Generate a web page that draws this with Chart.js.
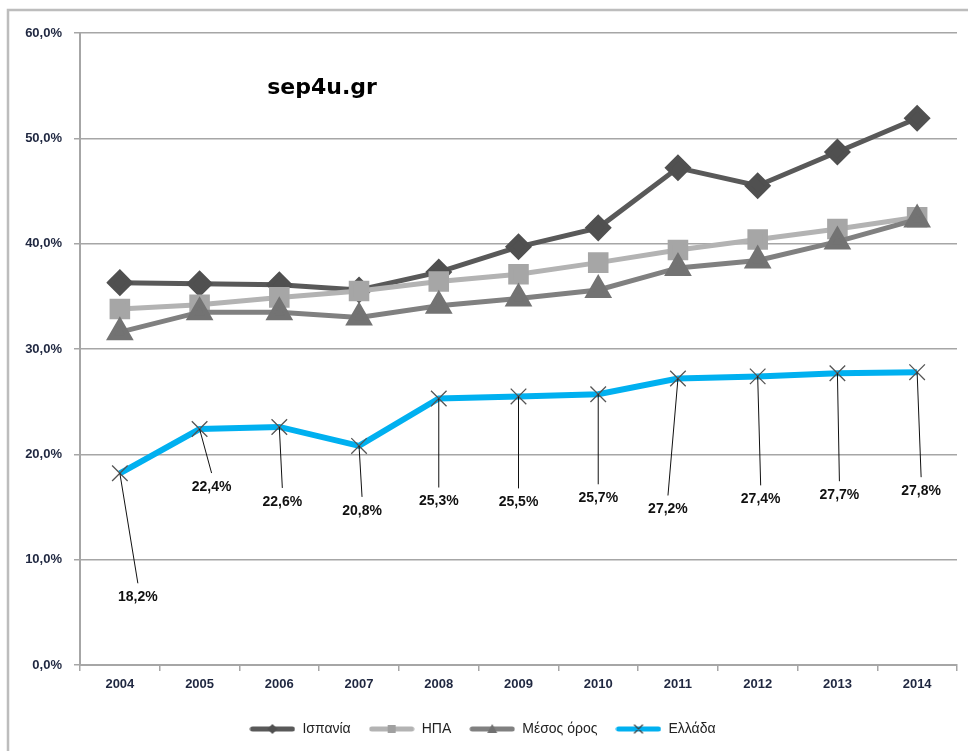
<!DOCTYPE html>
<html>
<head>
<meta charset="utf-8">
<script src="https://cdn.jsdelivr.net/npm/chart.js@4.4.0/dist/chart.umd.min.js"></script>
<style>
  html, body { margin: 0; padding: 0; background: #fff; overflow: hidden; }
  #wrap { width: 968px; height: 751px; }
  canvas { display: block; }
</style>
</head>
<body>
<div id="wrap"><canvas id="chart" width="968" height="751"></canvas></div>
<script>
var years = ['2004', '2005', '2006', '2007', '2008', '2009', '2010', '2011', '2012', '2013', '2014'];
var spain = [36.3, 36.2, 36.1, 35.6, 37.3, 39.7, 41.5, 47.2, 45.5, 48.7, 51.9];
var usa = [33.8, 34.2, 34.9, 35.5, 36.4, 37.1, 38.2, 39.4, 40.4, 41.4, 42.5];
var average = [31.6, 33.5, 33.5, 33.0, 34.1, 34.8, 35.6, 37.7, 38.4, 40.2, 42.3];
var greece = [18.2, 22.4, 22.6, 20.8, 25.3, 25.5, 25.7, 27.2, 27.4, 27.7, 27.8];
var seriesNames = ['Ισπανία', 'ΗΠΑ', 'Μέσος όρος', 'Ελλάδα'];
var yTicks = [0, 10, 20, 30, 40, 50, 60];

function pct(v) {
  return v.toFixed(1).replace('.', ',') + '%';
}

// little line + marker swatch for the legend
function swatch(lineColor, markColor, kind) {
  var c = document.createElement('canvas');
  c.width = 46; c.height = 12;
  var g = c.getContext('2d');
  g.strokeStyle = lineColor;
  g.lineWidth = 5;
  g.lineCap = 'round';
  g.beginPath(); g.moveTo(3, 6); g.lineTo(43, 6); g.stroke();
  g.fillStyle = markColor;
  g.strokeStyle = markColor;
  if (kind == 'diamond') {
    g.beginPath(); g.moveTo(23, 1); g.lineTo(28, 6); g.lineTo(23, 11); g.lineTo(18, 6); g.closePath(); g.fill();
  } else if (kind == 'square') {
    g.fillRect(19, 2, 8, 8);
  } else if (kind == 'triangle') {
    g.beginPath(); g.moveTo(23, 1); g.lineTo(28, 10); g.lineTo(18, 10); g.closePath(); g.fill();
  } else {
    g.lineWidth = 1.2;
    g.beginPath(); g.moveTo(19, 2); g.lineTo(27, 10); g.moveTo(27, 2); g.lineTo(19, 10); g.stroke();
  }
  return c;
}

// where each Greece label sits, relative to its point (px)
var labelShift = [[18, 124], [12, 58], [3, 75], [3, 65], [0, 103], [0, 106], [0, 104], [-10, 131], [3, 123], [2, 122], [4, 119]];

var greeceLabels = {
  id: 'greeceLabels',
  afterDatasetsDraw: function(chart) {
    var meta = chart.getDatasetMeta(3);
    var ctx = chart.ctx;
    ctx.save();
    ctx.font = 'bold 14px "Liberation Sans", sans-serif';
    ctx.textAlign = 'center';
    ctx.textBaseline = 'middle';
    meta.data.forEach(function(pt, i) {
      var lx = pt.x + labelShift[i][0];
      var ly = pt.y + labelShift[i][1];
      ctx.strokeStyle = '#111';
      ctx.lineWidth = 1;
      ctx.beginPath();
      ctx.moveTo(pt.x, pt.y);
      ctx.lineTo(lx, ly - 14);
      ctx.stroke();
      ctx.fillStyle = '#111';
      ctx.fillText(pct(greece[i]), lx, ly);
    });
    ctx.restore();
  }
};

var frame = {
  id: 'frame',
  beforeDraw: function(chart) {
    var ctx = chart.ctx;
    ctx.save();
    ctx.fillStyle = '#fff';
    ctx.fillRect(0, 0, chart.width, chart.height);
    ctx.strokeStyle = '#bdbdbd';
    ctx.lineWidth = 2.5;
    ctx.strokeRect(8, 10, 1000, 800);
    ctx.restore();
  },
  afterDraw: function(chart) {
    var ctx = chart.ctx;
    ctx.save();
    ctx.fillStyle = '#000';
    ctx.font = 'bold 22px "DejaVu Sans", sans-serif';
    ctx.textAlign = 'center';
    ctx.textBaseline = 'middle';
    ctx.fillText('sep4u.gr', 322, 88);
    ctx.restore();
  }
};

var ctx = document.getElementById('chart');
var myChart = new Chart(ctx, {
  type: 'line',
  data: {
    labels: years,
    datasets: [
      {
        label: seriesNames[0], data: spain, order: 4,
        borderColor: '#595959', borderWidth: 5,
        pointStyle: 'rectRot', pointRadius: 10, pointBackgroundColor: '#505050', pointBorderColor: '#505050',
        legendSwatch: swatch('#595959', '#505050', 'diamond')
      },
      {
        label: seriesNames[1], data: usa, order: 3,
        borderColor: '#b3b3b3', borderWidth: 5,
        pointStyle: 'rect', pointRadius: 11, pointBackgroundColor: '#a6a6a6', pointBorderColor: '#a6a6a6',
        legendSwatch: swatch('#b3b3b3', '#a0a0a0', 'square')
      },
      {
        label: seriesNames[2], data: average, order: 2,
        borderColor: '#808080', borderWidth: 5,
        pointStyle: 'triangle', pointRadius: 11, pointBackgroundColor: '#737373', pointBorderColor: '#737373',
        legendSwatch: swatch('#808080', '#707070', 'triangle')
      },
      {
        label: seriesNames[3], data: greece, order: 1,
        borderColor: '#00b0f0', borderWidth: 6,
        pointStyle: 'crossRot', pointRadius: 11, pointBorderColor: '#555', pointBorderWidth: 1.3,
        legendSwatch: swatch('#00b0f0', '#404040', 'cross')
      }
    ]
  },
  options: {
    responsive: false,
    animation: false,
    layout: { autoPadding: false, padding: { left: 8, right: 11, top: 33, bottom: 5 } },
    elements: { line: { tension: 0 } },
    plugins: {
      tooltip: { enabled: false },
      legend: {
        position: 'bottom',
        labels: {
          usePointStyle: true,
          pointStyleWidth: 46,
          padding: 18,
          color: '#222',
          font: { size: 14, family: '"Liberation Sans", sans-serif' },
          sort: function(a, b) { return a.datasetIndex - b.datasetIndex; },
          generateLabels: function(chart) {
            return chart.data.datasets.map(function(ds, i) {
              return { text: ds.label, pointStyle: ds.legendSwatch, datasetIndex: i, fontColor: '#222', lineWidth: 0, strokeStyle: 'transparent', fillStyle: 'transparent' };
            });
          }
        }
      }
    },
    scales: {
      x: {
        offset: true,
        grid: { offset: true, drawOnChartArea: false, drawTicks: true, tickLength: 6, color: '#a6a6a6', lineWidth: 1.5 },
        border: { color: '#a6a6a6', width: 2 },
        ticks: { color: '#1f2740', padding: 6, font: { size: 13, weight: 'bold', family: '"Liberation Sans", sans-serif' } },
        afterFit: function(scale) { scale.height = 39; }
      },
      y: {
        min: yTicks[0], max: yTicks[yTicks.length - 1],
        afterBuildTicks: function(scale) { scale.ticks = yTicks.map(function(v) { return { value: v }; }); },
        grid: { color: '#a6a6a6', lineWidth: 1.5, tickLength: 6 },
        border: { color: '#a6a6a6', width: 2 },
        ticks: { color: '#1f2740', padding: 12, callback: function(v) { return pct(v); }, font: { size: 13, weight: 'bold', family: '"Liberation Sans", sans-serif' } },
        afterFit: function(scale) { scale.width = 72; }
      }
    }
  },
  plugins: [frame, greeceLabels]
});
</script>
</body>
</html>
